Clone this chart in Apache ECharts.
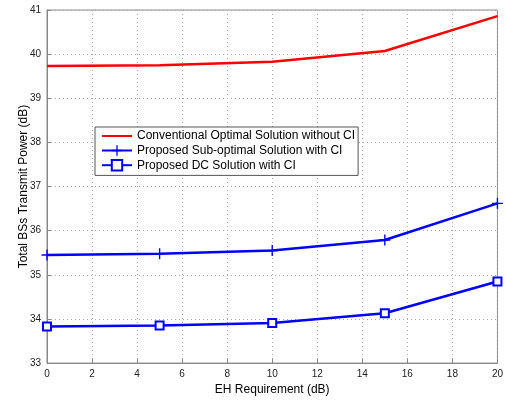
<!DOCTYPE html>
<html><head><meta charset="utf-8">
<script src="https://cdn.jsdelivr.net/npm/echarts@6/dist/echarts.min.js"></script>
<style>html,body{margin:0;padding:0;background:#fff}#c{width:506px;height:401px}</style>
</head><body><div id="c"></div>
<script>
const xValues = [0, 5, 10, 15, 20];
const conventional = [39.73, 39.75, 39.83, 40.07, 40.86];
const subOptimal = [35.45, 35.48, 35.55, 35.79, 36.62];
const dcSolution = [33.83, 33.85, 33.91, 34.13, 34.85];
const seriesNames = ['Conventional Optimal Solution without CI', 'Proposed Sub-optimal Solution with CI', 'Proposed DC Solution with CI'];
const xTitle = 'EH Requirement (dB)';
const yTitle = 'Total BSs Transmit Power (dB)';

const pair = arr => xValues.map((x, i) => [x, arr[i]]);
const font = 'Liberation Sans, Arial, sans-serif';
const plusPath = 'path://M-1,-8H1V-1H8V1H1V8H-1V1H-8V-1H-1Z';

const chart = echarts.init(document.getElementById('c'));
chart.setOption({
  animation: false,
  backgroundColor: '#fff',
  grid: { left: 47, right: 8, top: 10, bottom: 36, show: true, borderColor: '#888', borderWidth: 1 },
  xAxis: {
    type: 'value', min: 0, max: 20, interval: 2,
    name: xTitle, nameLocation: 'middle', nameGap: 18,
    nameTextStyle: { fontFamily: font, fontSize: 12, color: '#000' },
    axisLine: { lineStyle: { color: '#888' } },
    axisTick: { inside: true, length: 4, lineStyle: { color: '#888' } },
    axisLabel: { fontFamily: font, fontSize: 10, color: '#222', margin: 6 },
    splitLine: { lineStyle: { color: '#aaa', type: [1, 3] } }
  },
  yAxis: {
    type: 'value', min: 33, max: 41, interval: 1,
    name: yTitle, nameLocation: 'middle', nameGap: 17, nameMoveOverlap: false,
    nameTextStyle: { fontFamily: font, fontSize: 12, color: '#000' },
    axisLine: { show: true, lineStyle: { color: '#888' } },
    axisTick: { show: true, inside: true, length: 4, lineStyle: { color: '#888' } },
    axisLabel: { fontFamily: font, fontSize: 10, color: '#222', margin: 6 },
    splitLine: { lineStyle: { color: '#aaa', type: [1, 3] } }
  },
  legend: {
    orient: 'vertical', left: 95, top: 127,
    backgroundColor: '#fff', borderColor: '#555', borderWidth: 1,
    padding: [3, 3, 4, 6], itemGap: 2.5, itemWidth: 30, itemHeight: 13,
    textStyle: { fontFamily: font, fontSize: 12, color: '#000' },
    data: [
      { name: seriesNames[0], itemStyle: { color: 'rgba(0,0,0,0)', borderColor: 'rgba(0,0,0,0)', borderWidth: 0, opacity: 0 } },
      { name: seriesNames[1] },
      { name: seriesNames[2] }
    ]
  },
  series: [
    { name: seriesNames[0], type: 'line', data: pair(conventional), symbol: 'none',
      lineStyle: { color: '#ff0000', width: 2.5 }, itemStyle: { color: '#ff0000' } },
    { name: seriesNames[1], type: 'line', data: pair(subOptimal), symbol: plusPath, symbolSize: 11,
      lineStyle: { color: '#0000ff', width: 2.5 }, itemStyle: { color: '#0000ff' } },
    { name: seriesNames[2], type: 'line', data: pair(dcSolution), symbol: 'emptyRect', symbolSize: 8,
      lineStyle: { color: '#0000ff', width: 2.5 }, itemStyle: { color: '#0000ff', borderWidth: 2 } }
  ]
});
</script></body></html>
